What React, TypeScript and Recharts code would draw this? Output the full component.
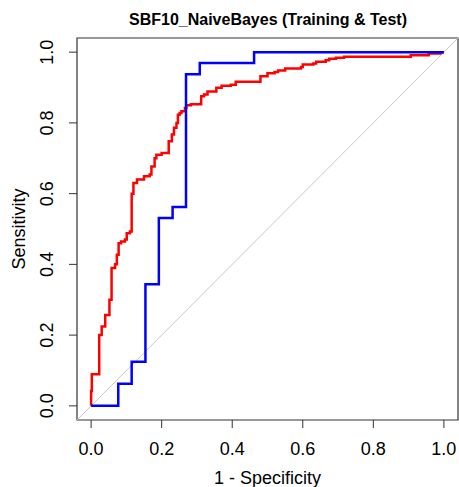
import React from 'react';
import { LineChart, Line, XAxis, YAxis, ReferenceArea } from 'recharts';

// Training ROC (red), step vertices: (1 - specificity, sensitivity)
const redFpr = [0, 0, 0.002, 0.023, 0.03, 0.04, 0.052, 0.058, 0.068, 0.073, 0.078, 0.085, 0.096, 0.101, 0.11, 0.115, 0.12, 0.13, 0.15, 0.166, 0.171, 0.18, 0.185, 0.2, 0.22, 0.229, 0.235, 0.242, 0.246, 0.251, 0.256, 0.266, 0.27, 0.283, 0.312, 0.32, 0.33, 0.355, 0.37, 0.396, 0.41, 0.48, 0.5, 0.52, 0.53, 0.55, 0.595, 0.6, 0.63, 0.638, 0.665, 0.675, 0.694, 0.717, 0.906, 0.957, 0.99, 1];
const redTpr = [0, 0.042, 0.089, 0.2, 0.224, 0.257, 0.3, 0.39, 0.4, 0.427, 0.46, 0.465, 0.47, 0.488, 0.493, 0.6, 0.63, 0.64, 0.649, 0.654, 0.677, 0.7, 0.71, 0.715, 0.748, 0.767, 0.786, 0.8, 0.823, 0.828, 0.833, 0.842, 0.85, 0.853, 0.875, 0.88, 0.889, 0.899, 0.905, 0.908, 0.916, 0.932, 0.94, 0.944, 0.948, 0.954, 0.958, 0.965, 0.968, 0.973, 0.977, 0.981, 0.984, 0.987, 0.991, 0.996, 1, 1];

// Test ROC (blue)
const blueFpr = [0, 0.077, 0.115, 0.154, 0.192, 0.231, 0.269, 0.308, 0.462, 1];
const blueTpr = [0, 0.0625, 0.125, 0.344, 0.531, 0.5625, 0.9375, 0.969, 1, 1];

// Chance diagonal
const diagFpr = [-0.04, 1.04];
const diagTpr = [-0.04, 1.04];

const tickValues = [0, 0.2, 0.4, 0.6, 0.8, 1.0];
const title = 'SBF10_NaiveBayes (Training & Test)';
const xLabel = '1 - Specificity';
const yLabel = 'Sensitivity';

const zip = (xs: number[], ys: number[]) => xs.map((x, i) => ({ fpr: x, tpr: ys[i] }));
const redData = zip(redFpr, redTpr);
const blueData = zip(blueFpr, blueTpr);
const diagData = zip(diagFpr, diagTpr);

const FONT = '"Liberation Sans", Arial, sans-serif';

const XTick = (props: any) => {
  const { x, y, payload } = props;
  return (
    <text x={x} y={y + 24.5} textAnchor="middle" fontSize={18} fill="#000" fontFamily={FONT}>
      {Number(payload.value).toFixed(1)}
    </text>
  );
};

const YTick = (props: any) => {
  const { x, y, payload } = props;
  const bx = x - 13.5;
  return (
    <text x={bx} y={y} transform={`rotate(-90, ${bx}, ${y})`} textAnchor="middle" fontSize={18} fill="#000" fontFamily={FONT}>
      {Number(payload.value).toFixed(1)}
    </text>
  );
};

export default function App() {
  return (
    <div style={{ position: 'absolute', left: 0, top: 0, width: 459, height: 487, background: '#fff', fontFamily: FONT }}>
      <LineChart width={459} height={487} margin={{ top: 38, right: 1, bottom: 0, left: 0 }}>
        <XAxis
          dataKey="fpr"
          type="number"
          domain={[-0.04, 1.04]}
          ticks={tickValues}
          allowDataOverflow
          axisLine={false}
          tickLine={{ stroke: '#333', strokeWidth: 1 }}
          tickSize={8}
          height={67}
          tick={<XTick />}
          interval={0}
          label={{ value: xLabel, position: 'insideBottom', offset: 3.5, fontSize: 18, fill: '#000', fontFamily: FONT }}
        />
        <YAxis
          dataKey="tpr"
          type="number"
          domain={[-0.04, 1.04]}
          ticks={tickValues}
          allowDataOverflow
          axisLine={false}
          tickLine={{ stroke: '#333', strokeWidth: 1 }}
          tickSize={8}
          width={77}
          tick={<YTick />}
          interval={0}
        />
        <Line data={diagData} dataKey="tpr" type="linear" stroke="#c8c8c8" strokeWidth={1} dot={false} isAnimationActive={false} />
        <Line data={redData} dataKey="tpr" type="stepAfter" stroke="#ff0000" strokeWidth={2.5} dot={false} isAnimationActive={false} />
        <Line data={blueData} dataKey="tpr" type="stepAfter" stroke="#0000ff" strokeWidth={2.5} dot={false} isAnimationActive={false} />
        <ReferenceArea x1={-0.04} x2={1.04} y1={-0.04} y2={1.04} fill="none" fillOpacity={0} stroke="#333" strokeWidth={1.2} ifOverflow="visible" />
      </LineChart>
      <div style={{ position: 'absolute', left: 77, top: 10, width: 382, textAlign: 'center', fontSize: 16, lineHeight: '20px', fontWeight: 'bold', color: '#000' }}>
        {title}
      </div>
      <div style={{ position: 'absolute', left: 19 - 100, top: 229 - 11, width: 200, height: 22, lineHeight: '22px', textAlign: 'center', fontSize: 18, color: '#000', transform: 'rotate(-90deg)' }}>
        {yLabel}
      </div>
    </div>
  );
}
